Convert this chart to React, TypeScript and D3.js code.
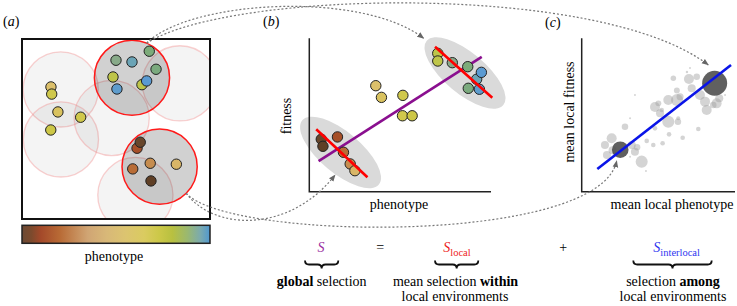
import React from 'react';
import * as d3 from 'd3';

// ---------- Panel (a): landscape ----------
// background local environments (landscape units)
const envX = [0.206, 0.207, 0.477, 0.84, 0.603];
const envY = [0.268, 0.534, 0.42, 0.236, 0.83];
// two highlighted local environments
const focalEnvX = [0.585, 0.732];
const focalEnvY = [0.206, 0.679];
const envRadius = 0.2;

// individuals: location (a), phenotype & fitness (b)
const indLocX = [0.5, 0.585, 0.677, 0.713, 0.484, 0.638, 0.663, 0.505,
  0.154, 0.158, 0.191, 0.312, 0.153,
  0.612, 0.629, 0.589, 0.682, 0.821, 0.686];
const indLocY = [0.113, 0.122, 0.065, 0.161, 0.202, 0.243, 0.223, 0.266,
  0.255, 0.293, 0.388, 0.416, 0.484,
  0.581, 0.549, 0.691, 0.661, 0.666, 0.755];
const indPhenotype = [0.787, 0.921, 0.872, 0.875, 0.707, 0.707, 0.947, 0.936,
  0.366, 0.515, 0.397, 0.513, 0.566,
  0.155, 0.066, 0.188, 0.225, 0.251, 0.075];
const indFitness = [0.841, 0.733, 0.815, 0.674, 0.902, 0.852, 0.778, 0.668,
  0.691, 0.628, 0.615, 0.495, 0.495,
  0.357, 0.342, 0.257, 0.181, 0.137, 0.296];

// phenotype -> colour
const phenoStops = [0.06, 0.075, 0.155, 0.19, 0.225, 0.25, 0.37, 0.4, 0.52, 0.57, 0.71, 0.79, 0.87, 0.92, 0.94];
const phenoColors = ['#6e4b2f', '#5f3f25', '#a64f28', '#b96e37', '#c68d4f', '#d9b667', '#dcc06b', '#d9c25e',
  '#cfc84b', '#cdc747', '#bec549', '#86a98c', '#7dab78', '#6ca4b4', '#5a9ad2'];

// colour bar
const colorbarOffsets = [0, 0.05, 0.1, 0.2, 0.35, 0.45, 0.55, 0.65, 0.73, 0.8, 0.88, 0.95, 1];
const colorbarColors = ['#6b4a35', '#7c4a2d', '#a4492a', '#b86a35', '#d0a574', '#d8b878', '#dcc470',
  '#dacb60', '#ccc848', '#b8c040', '#9ab870', '#7aaab0', '#5098d0'];

// ---------- Panel (b): regressions ----------
const globalSlope = 0.757, globalIntercept = 0.161, globalRange = [0.051, 0.949];
const localSlopes = [-1.054, -1.11];
const localIntercepts = [1.674, 0.449];
const localRanges = [[0.692, 1.007], [0.038, 0.32]];
const clusterCenterPheno = [0.857, 0.172];
const clusterCenterFit = [0.774, 0.256];

// ---------- Panel (c): mean local phenotype / fitness ----------
const envMeanPheno = [0.597, 0.699, 0.717, 0.75, 0.686, 0.641, 0.621, 0.499, 0.477, 0.521, 0.564, 0.51, 0.629,
  0.627, 0.564, 0.477, 0.569, 0.658, 0.76, 0.423, 0.466, 0.527, 0.314, 0.346, 0.281, 0.194, 0.15, 0.163,
  0.325, 0.346, 0.314, 0.39, 0.771, 0.804, 0.858, 0.815, 0.88, 0.897, 0.935, 0.418, 0.706, 0.2, 0.36, 0.62];
const envMeanFit = [0.739, 0.735, 0.674, 0.75, 0.78, 0.619, 0.598, 0.576, 0.552, 0.533, 0.598, 0.511, 0.478,
  0.456, 0.456, 0.413, 0.374, 0.352, 0.409, 0.331, 0.304, 0.316, 0.478, 0.63, 0.424, 0.348, 0.304, 0.239,
  0.304, 0.261, 0.228, 0.196, 0.63, 0.587, 0.565, 0.533, 0.576, 0.609, 0.63, 0.135, 0.806, 0.27, 0.29, 0.66];
const envSize = [1.2, 4, 2.6, 1.7, 0.23, 2, 5.8, 1.4, 4, 0.85, 4, 2.6, 0.64, 1.7, 5.8, 0.85, 0.85, 0.85,
  0.85, 0.85, 0.85, 0.85, 0.16, 0.16, 1.7, 4, 2.6, 2.6, 2.6, 2.6, 0.16, 5.8, 4, 4, 1.7, 4, 4, 2.6, 0.16, 0.16,
  0.16, 2.6, 1.7, 1.4];
const focalMeanPheno = [0.867, 0.25];
const focalMeanFit = [0.707, 0.274];
const focalSize = [25, 11];
const interlocalSlope = 0.776, interlocalIntercept = 0.07, interlocalRange = [0.1, 0.974];

const FONT = "'Liberation Serif', 'Times New Roman', serif";

function brace(x1: number, x2: number, y0: number, h: number) {
  const xm = (x1 + x2) / 2, ym = y0 + h / 2, r = h / 2;
  const p = d3.path();
  p.moveTo(x1, y0);
  p.quadraticCurveTo(x1, ym, x1 + r, ym);
  p.lineTo(xm - r, ym);
  p.quadraticCurveTo(xm, ym, xm, y0 + h);
  p.quadraticCurveTo(xm, ym, xm + r, ym);
  p.lineTo(x2 - r, ym);
  p.quadraticCurveTo(x2, ym, x2, y0);
  return p.toString();
}

function bez(p0: number[], c1: number[], c2: number[], p3: number[]) {
  const p = d3.path();
  p.moveTo(p0[0], p0[1]);
  p.bezierCurveTo(p0[0] + c1[0], p0[1] + c1[1], p3[0] + c2[0], p3[1] + c2[1], p3[0], p3[1]);
  return p.toString();
}

export default function App() {
  const xA = d3.scaleLinear().domain([0, 1]).range([22, 210]);
  const yA = d3.scaleLinear().domain([0, 180 / 188]).range([39, 219]);
  const rA = (v: number) => xA(v) - xA(0);
  const xB = d3.scaleLinear().domain([0, 1]).range([309.3, 491]);
  const yB = d3.scaleLinear().domain([0, 1]).range([191.7, 38.3]);
  const xC = d3.scaleLinear().domain([0, 1]).range([582, 735]);
  const yC = d3.scaleLinear().domain([0, 1]).range([191.7, 38.3]);
  const rC = d3.scaleSqrt().domain([0, 25]).range([0, 12.5]);
  const color = d3.scaleLinear<string>().domain(phenoStops).range(phenoColors).clamp(true);

  const ind = indLocX.map((_, i) => i);
  const line = (s: number, b: number, r: number[], xs: any, ys: any) =>
    d3.line()([[xs(r[0]), ys(s * r[0] + b)], [xs(r[1]), ys(s * r[1] + b)]]) as string;

  // anchors for the connecting arrows
  const ang0 = -67 * Math.PI / 180, ang1 = 45 * Math.PI / 180;
  const startTop = [xA(focalEnvX[0]) + rA(envRadius) * Math.cos(ang0), yA(focalEnvY[0]) + rA(envRadius) * Math.sin(ang0)];
  const startBot = [xA(focalEnvX[1]) + rA(envRadius) * Math.cos(ang1), yA(focalEnvY[1]) + rA(envRadius) * Math.sin(ang1)];
  const endBTop = [xB(clusterCenterPheno[0]) - 41.4, yB(clusterCenterFit[0]) - 34.7];
  const endBBot = [xB(clusterCenterPheno[1]) - 5.5, yB(clusterCenterFit[1]) + 22.5];
  const endCTop = [xC(focalMeanPheno[0]) - 6.4, yC(focalMeanFit[0]) - 18.3];
  const endCBot = [xC(focalMeanPheno[1]) - 3.6, yC(focalMeanFit[1]) + 11.3];

  const dash = { fill: 'none', stroke: '#777', strokeWidth: 1.2, strokeDasharray: '2,2', markerEnd: 'url(#arr)' };

  return (
    <svg width={737} height={306} style={{ position: 'absolute', left: 0, top: 0, background: '#fff' }} fontFamily={FONT}>
      <defs>
        <clipPath id="boxclip">
          <rect x={xA(0)} y={yA(0)} width={xA(1) - xA(0)} height={yA(180 / 188) - yA(0)} />
        </clipPath>
        <linearGradient id="cbar" x1="0" x2="1" y1="0" y2="0">
          {colorbarOffsets.map((o, i) => <stop key={i} offset={o} stopColor={colorbarColors[i]} />)}
        </linearGradient>
        <marker id="arr" viewBox="0 0 10 10" refX="9" refY="5" markerWidth="7" markerHeight="7" markerUnits="userSpaceOnUse" orient="auto">
          <path d="M0,1 L10,5 L0,9 Z" fill="#666" />
        </marker>
      </defs>

      {/* ---------- (a) ---------- */}
      <text x={3} y={26} fontSize={14}>(<tspan fontStyle="italic">a</tspan>)</text>
      <g clipPath="url(#boxclip)">
        {envX.map((x, i) => (
          <circle key={i} cx={xA(x)} cy={yA(envY[i])} r={rA(envRadius)} fill="#000" fillOpacity={0.045} stroke="#f08a8a" strokeOpacity={0.4} strokeWidth={1.3} />
        ))}
        {focalEnvX.map((x, i) => (
          <circle key={i} cx={xA(x)} cy={yA(focalEnvY[i])} r={rA(envRadius)} fill="#000" fillOpacity={0.18} stroke="#ff1a1a" strokeWidth={1.5} />
        ))}
        {ind.map(i => (
          <circle key={i} cx={xA(indLocX[i])} cy={yA(indLocY[i])} r={5.2} fill={color(indPhenotype[i])} stroke="#222" strokeWidth={1} />
        ))}
      </g>
      <rect x={xA(0)} y={yA(0)} width={xA(1) - xA(0)} height={yA(180 / 188) - yA(0)} fill="none" stroke="#111" strokeWidth={2} />
      <rect x={xA(0)} y={225.3} width={xA(1) - xA(0)} height={18} fill="url(#cbar)" stroke="#222" strokeWidth={1.5} />
      <text x={114} y={261} fontSize={14} textAnchor="middle">phenotype</text>

      {/* ---------- (b) ---------- */}
      <text x={263} y={26} fontSize={14}>(<tspan fontStyle="italic">b</tspan>)</text>
      {clusterCenterPheno.map((p, i) => (
        <ellipse key={i} cx={0} cy={0} rx={50} ry={20.5} fill="#dadada"
          transform={`translate(${xB(p)},${yB(clusterCenterFit[i])}) rotate(40)`} />
      ))}
      <path d={line(globalSlope, globalIntercept, globalRange, xB, yB)} stroke="#8a0f8f" strokeWidth={2.6} fill="none" />
      {ind.map(i => (
        <circle key={i} cx={xB(indPhenotype[i])} cy={yB(indFitness[i])} r={5.2} fill={color(indPhenotype[i])} stroke="#222" strokeWidth={1} />
      ))}
      {localSlopes.map((s, i) => (
        <path key={i} d={line(s, localIntercepts[i], localRanges[i], xB, yB)} stroke="#ff0000" strokeWidth={2.6} fill="none" />
      ))}
      <path d={`M${xB(0)},${yB(1)}V${yB(0)}H${xB(1)}`} fill="none" stroke="#222" strokeWidth={1.5} />
      <text transform={`translate(291,116) rotate(-90)`} fontSize={14} textAnchor="middle">fitness</text>
      <text x={399} y={209} fontSize={14} textAnchor="middle">phenotype</text>

      {/* ---------- (c) ---------- */}
      <text x={545} y={27} fontSize={14}>(<tspan fontStyle="italic">c</tspan>)</text>
      {envMeanPheno.map((p, i) => (
        <circle key={i} cx={xC(p)} cy={yC(envMeanFit[i])} r={rC(envSize[i])} fill="#a0a0a0" fillOpacity={0.45} />
      ))}
      {focalMeanPheno.map((p, i) => (
        <circle key={i} cx={xC(p)} cy={yC(focalMeanFit[i])} r={rC(focalSize[i])} fill="#4a4a4a" fillOpacity={0.88} />
      ))}
      <path d={line(interlocalSlope, interlocalIntercept, interlocalRange, xC, yC)} stroke="#0a14e8" strokeWidth={2.6} fill="none" />
      <path d={`M${xC(0) - 0.3},${yC(1)}V${yC(0)}H${xC(1)}`} fill="none" stroke="#222" strokeWidth={1.5} />
      <text transform={`translate(573.5,112) rotate(-90)`} fontSize={14} textAnchor="middle">mean local fitness</text>
      <text x={672} y={209} fontSize={14} textAnchor="middle">mean local phenotype</text>

      {/* ---------- connecting arrows ---------- */}
      <path d={bez(startTop, [43, -43], [-62, -48], endBTop)} {...dash} />
      <path d={bez(startTop, [83, -53], [-108, -83], endCTop)} {...dash} />
      <path d={bez(startBot, [28, 38], [-45, 58], endBBot)} {...dash} />
      <path d={bez(startBot, [43, 48], [-17, 84], endCBot)} {...dash} />

      {/* ---------- equation ---------- */}
      <g fontSize={14} textAnchor="middle">
        <text x={321} y={252.3} fill="#9b2fa0" fontStyle="italic">S</text>
        <text x={380.3} y={252.3}>=</text>
        <text x={443.3} y={252.3} fill="#ee1c24" textAnchor="start">
          <tspan fontStyle="italic">S</tspan><tspan fontSize={10.5} dy={4}>local</tspan>
        </text>
        <text x={563.3} y={252.3}>+</text>
        <text x={653.3} y={252.3} fill="#2e35f0" textAnchor="start">
          <tspan fontStyle="italic">S</tspan><tspan fontSize={10.5} dy={4}>interlocal</tspan>
        </text>
      </g>
      <g fill="none" stroke="#111" strokeWidth={1.8}>
        <path d={brace(305, 338.3, 260.5, 8)} />
        <path d={brace(435, 478.3, 260.5, 8)} />
        <path d={brace(633.3, 711.7, 260.5, 8)} />
      </g>
      <g fontSize={14} textAnchor="middle">
        <text x={321.7} y={286}><tspan fontWeight="bold">global</tspan> selection</text>
        <text x={455.5} y={286}>mean selection <tspan fontWeight="bold">within</tspan></text>
        <text x={455} y={301}>local environments</text>
        <text x={673} y={286}>selection <tspan fontWeight="bold">among</tspan></text>
        <text x={673} y={301}>local environments</text>
      </g>
    </svg>
  );
}
